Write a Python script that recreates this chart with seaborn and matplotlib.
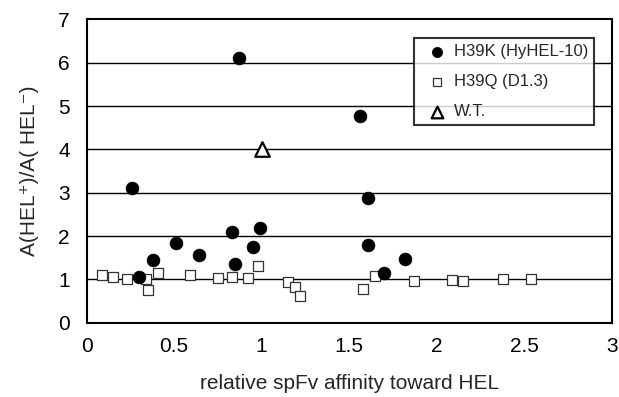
import numpy as np
import pandas as pd
import matplotlib
matplotlib.use("Agg")
import matplotlib.pyplot as plt
import seaborn as sns

# ==============================
# Data
# ==============================

h39k_x = [0.26, 0.30, 0.38, 0.51, 0.64, 0.83, 0.85, 0.87, 0.95, 0.99,
          1.56, 1.61, 1.61, 1.70, 1.82]
h39k_y = [3.11, 1.05, 1.45, 1.85, 1.56, 2.10, 1.35, 6.12, 1.75, 2.19,
          4.77, 2.89, 1.79, 1.15, 1.46]

h39q_x = [0.09, 0.15, 0.23, 0.34, 0.35, 0.41, 0.59, 0.75, 0.83, 0.92,
          0.98, 1.15, 1.19, 1.22, 1.58, 1.65, 1.87, 2.09, 2.15, 2.38, 2.54]
h39q_y = [1.10, 1.06, 1.00, 1.00, 0.75, 1.14, 1.10, 1.04, 1.06, 1.04,
          1.32, 0.95, 0.82, 0.62, 0.79, 1.08, 0.96, 0.99, 0.96, 1.02, 1.02]

wt_x = [1.00]
wt_y = [4.00]

x_ticks = [0, 0.5, 1, 1.5, 2, 2.5, 3]
x_tick_labels = ["0", "0.5", "1", "1.5", "2", "2.5", "3"]
y_ticks = [0, 1, 2, 3, 4, 5, 6, 7]

h39k = pd.DataFrame({"x": h39k_x, "y": h39k_y})
h39q = pd.DataFrame({"x": h39q_x, "y": h39q_y})
wt = pd.DataFrame({"x": wt_x, "y": wt_y})

# ==============================
# Plot
# ==============================

sns.set_style("white")
plt.rcParams["font.family"] = ["Liberation Sans", "DejaVu Sans"]

fig = plt.figure(figsize=(6.19, 3.97), dpi=100)
ax = fig.add_axes([0.140, 0.187, 0.848, 0.764])

for yv in y_ticks[1:-1]:
    ax.axhline(yv, color="black", lw=1.0, zorder=1)

sns.scatterplot(data=h39q, x="x", y="y", ax=ax, marker="s", s=55,
                facecolor="white", edgecolor="#333333", linewidth=0.9,
                label="H39Q (D1.3)", zorder=3)
sns.scatterplot(data=h39k, x="x", y="y", ax=ax, marker="o", s=85,
                color="black", edgecolor="black", linewidth=0.5,
                label="H39K (HyHEL-10)", zorder=4)
sns.scatterplot(data=wt, x="x", y="y", ax=ax, marker="^", s=110,
                facecolor="white", edgecolor="black", linewidth=1.6,
                label="W.T.", zorder=4)

ax.set_xlim(0, 3)
ax.set_ylim(0, 7)
ax.set_xticks(x_ticks)
ax.set_xticklabels(x_tick_labels)
ax.set_yticks(y_ticks)
ax.tick_params(axis="both", direction="in", length=5, width=1.2,
               labelsize=15, colors="black")
ax.tick_params(axis="x", pad=10)
ax.tick_params(axis="y", pad=12)

for sp in ax.spines.values():
    sp.set_color("black")
    sp.set_linewidth(1.5)

ax.set_xlabel("relative spFv affinity toward HEL", fontsize=15, labelpad=13)
ax.set_ylabel("A(HEL\u207a)/A( HEL\u207b)", fontsize=15, labelpad=14)

handles, labels = ax.get_legend_handles_labels()
order = [labels.index("H39K (HyHEL-10)"), labels.index("H39Q (D1.3)"),
         labels.index("W.T.")]
leg = ax.legend([handles[i] for i in order], [labels[i] for i in order],
                loc="upper right", bbox_to_anchor=(0.966, 0.938),
                borderaxespad=0, fontsize=12, frameon=True, fancybox=False,
                borderpad=0.35, labelspacing=0.9, handletextpad=0.0,
                handlelength=2.0, markerscale=0.8)
leg.get_frame().set_edgecolor("black")
leg.get_frame().set_linewidth(1.5)
leg.set_zorder(5)

fig.savefig("out.png", dpi=100)
